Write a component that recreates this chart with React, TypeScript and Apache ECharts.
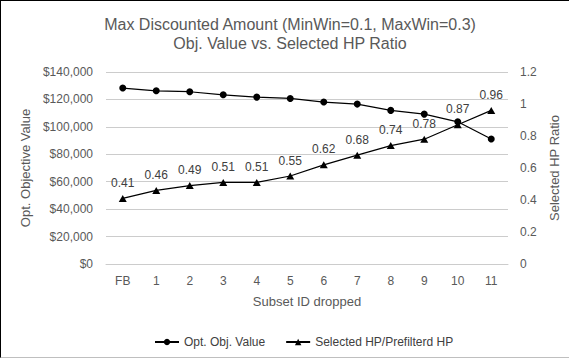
import React, { useEffect, useRef } from "react";
import * as echarts from "echarts";

const categories = ["FB", "1", "2", "3", "4", "5", "6", "7", "8", "9", "10", "11"];
const objValues = [128300, 126300, 125600, 123400, 121700, 120700, 118100, 116600, 112000, 109300, 103700, 91100];
const hpRatio = [0.41, 0.46, 0.49, 0.51, 0.51, 0.55, 0.62, 0.68, 0.74, 0.78, 0.87, 0.96];
const titleLines = ["Max Discounted Amount (MinWin=0.1, MaxWin=0.3)", "Obj. Value vs. Selected HP Ratio"];
const seriesNames = ["Opt. Obj. Value", "Selected HP/Prefilterd HP"];

const FONT = "'Liberation Sans', Arial, sans-serif";

export default function App() {
  const ref = useRef<HTMLDivElement>(null);

  useEffect(() => {
    document.body.style.margin = "0";
    if (!ref.current) return;
    const chart = echarts.init(ref.current, null, { renderer: "svg" });
    chart.setOption({
      animation: false,
      textStyle: { fontFamily: FONT },
      graphic: [
        {
          type: "text",
          x: 290,
          y: 24,
          style: {
            text: titleLines[0],
            fill: "#595959",
            font: `16px ${FONT}`,
            textAlign: "center",
            textVerticalAlign: "middle",
          },
        },
        {
          type: "text",
          x: 290,
          y: 43,
          style: {
            text: titleLines[1],
            fill: "#595959",
            font: `16px ${FONT}`,
            textAlign: "center",
            textVerticalAlign: "middle",
          },
        },
      ],
      legend: {
        left: 149,
        top: 331,
        itemWidth: 24,
        itemHeight: 8,
        itemGap: 20,
        textStyle: { color: "#404040", fontSize: 12, fontFamily: FONT },
        data: seriesNames,
      },
      grid: {
        left: 106,
        right: 61,
        top: 72,
        bottom: 94,
        containLabel: false,
        outerBoundsMode: "none",
      },
      xAxis: {
        type: "category",
        data: categories,
        boundaryGap: true,
        name: "Subset ID dropped",
        nameLocation: "middle",
        nameGap: 31,
        nameTextStyle: { color: "#595959", fontSize: 13, fontFamily: FONT },
        axisLine: { show: true, lineStyle: { color: "#cccccc", width: 1 } },
        axisTick: { show: false },
        axisLabel: { color: "#595959", fontSize: 12, margin: 11, fontFamily: FONT },
      },
      yAxis: [
        {
          type: "value",
          min: 0,
          max: 140000,
          interval: 20000,
          name: "Opt. Objective Value",
          nameLocation: "middle",
          nameRotate: 90,
          nameGap: 68,
          nameTextStyle: { color: "#595959", fontSize: 13, fontFamily: FONT },
          axisLine: { show: false },
          axisTick: { show: false },
          splitLine: { show: true, lineStyle: { color: "#cccccc", width: 1 } },
          axisLabel: {
            color: "#595959",
            fontSize: 12,
            margin: 13,
            fontFamily: FONT,
            formatter: (v: number) => "$" + Math.round(v).toLocaleString("en-US"),
          },
        },
        {
          type: "value",
          min: 0,
          max: 1.2,
          interval: 0.2,
          position: "right",
          name: "Selected HP Ratio",
          nameLocation: "middle",
          nameRotate: 90,
          nameGap: 36,
          nameTextStyle: { color: "#595959", fontSize: 13, fontFamily: FONT },
          axisLine: { show: false },
          axisTick: { show: false },
          splitLine: { show: false },
          axisLabel: {
            color: "#595959",
            fontSize: 12,
            margin: 12,
            fontFamily: FONT,
            formatter: (v: number) => String(parseFloat(v.toFixed(1))),
          },
        },
      ],
      series: [
        {
          name: seriesNames[0],
          type: "line",
          yAxisIndex: 0,
          data: objValues,
          symbol: "circle",
          symbolSize: 7,
          lineStyle: { color: "#000000", width: 1.25 },
          itemStyle: { color: "#000000" },
        },
        {
          name: seriesNames[1],
          type: "line",
          yAxisIndex: 1,
          data: hpRatio,
          symbol: "triangle",
          symbolSize: [8, 7],
          lineStyle: { color: "#000000", width: 1.25 },
          itemStyle: { color: "#000000" },
          label: {
            show: true,
            position: "top",
            distance: 6,
            color: "#404040",
            fontSize: 12,
            fontFamily: FONT,
            formatter: (p: any) => Number(p.value).toFixed(2),
          },
        },
      ],
    });
    return () => chart.dispose();
  }, []);

  return (
    <div style={{ position: "fixed", left: 0, top: 0, width: 569, height: 358, background: "#ffffff" }}>
      <div ref={ref} style={{ position: "absolute", left: 0, top: 0, width: 569, height: 358 }} />
      <div
        style={{
          position: "absolute",
          left: 0,
          top: 0,
          width: 569,
          height: 358,
          boxSizing: "border-box",
          borderTop: "1px solid #000000",
          borderLeft: "1px solid #000000",
          borderBottom: "1px solid #bfbfbf",
          pointerEvents: "none",
        }}
      />
    </div>
  );
}
